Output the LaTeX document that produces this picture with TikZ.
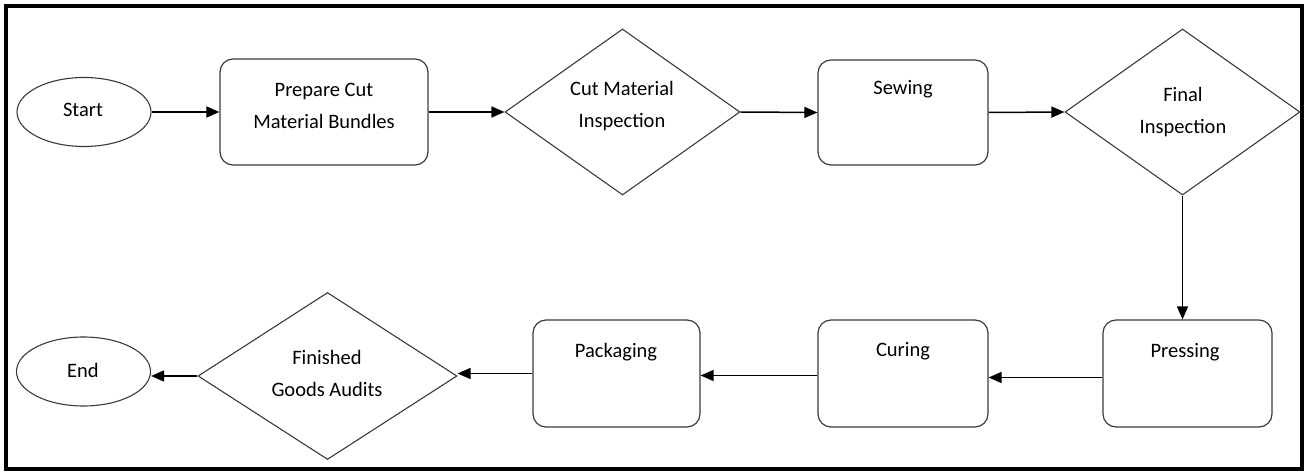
\documentclass[tikz,border=0pt]{standalone}
\usepackage{fontspec}
\setmainfont{Carlito}
\usetikzlibrary{shapes.geometric,arrows.meta}
\definecolor{linegray}{HTML}{3A3A3A}
\begin{document}
\begin{tikzpicture}[x=1pt,y=-1pt,
  every node/.style={font=\fontsize{20.5}{32}\selectfont},
  procbox/.style={draw=linegray, line width=1.2pt, rounded corners=13pt, inner sep=0pt},
  decbox/.style={draw=linegray, line width=1.1pt, diamond, inner sep=0pt},
  termbox/.style={draw=linegray, line width=1.1pt, ellipse, inner sep=0pt, minimum width=134pt, minimum height=69pt},
  lbl/.style={align=center, inner sep=0pt},
  flow/.style={draw=black, line width=1.5pt, -{Triangle[length=13pt,width=11pt]}}
]
\useasboundingbox (0,0) rectangle (1310,473);
\node[draw=black, line width=3.5pt, minimum width=1296pt, minimum height=463pt, inner sep=0pt] (frame) at (654,237.5) {};

% shapes
\node[termbox] (start) at (84,112) {};
\node[procbox, minimum width=208pt, minimum height=106pt] (prep) at (324,112) {};
\node[decbox, minimum width=235pt, minimum height=166pt] (cmi) at (622.5,112) {};
\node[procbox, minimum width=170pt, minimum height=105pt] (sew) at (903,112.5) {};
\node[decbox, minimum width=235pt, minimum height=166pt] (fin) at (1182.5,112) {};
\node[procbox, minimum width=169pt, minimum height=107pt] (press) at (1187.5,373.5) {};
\node[procbox, minimum width=170pt, minimum height=107pt] (cur) at (903,373.5) {};
\node[procbox, minimum width=167pt, minimum height=107pt] (pack) at (616.5,373.5) {};
\node[decbox, minimum width=259pt, minimum height=167pt] (fga) at (327.5,376) {};
\node[termbox] (endn) at (83.5,371.5) {};

% labels
\node[lbl] (tstart) at (83,110) {Start};
\node[lbl] (tprep) at (324,106) {Prepare Cut\\Material Bundles};
\node[lbl] (tcmi) at (622,106) {Cut Material\\Inspection};
\node[lbl] (tsew) at (903,89) {Sewing};
\node[lbl] (tfin) at (1183,112) {Final\\Inspection};
\node[lbl] (tpress) at (1185,352) {Pressing};
\node[lbl] (tcur) at (903,351) {Curing};
\node[lbl] (tpack) at (616,352) {Packaging};
\node[lbl] (tfga) at (327,373.5) {Finished\\Goods Audits};
\node[lbl] (tend) at (83,370) {End};

% connectors
\draw[flow] (start.east) -- (prep.west);
\draw[flow] (prep.east) -- (cmi.west);
\draw[flow] (cmi.east) -- (sew.west);
\draw[flow] (sew.east) -- (fin.west);
\draw[flow] (fin.south) -- (press.north -| fin.south);
\draw[flow] ([yshift=-4pt]press.west) -- ([yshift=-4pt]cur.east);
\draw[flow] ([yshift=-2pt]cur.west) -- ([yshift=-2pt]pack.east);
\draw[flow] (pack.west) -- (fga.east |- pack.west);
\draw[flow] (fga.west) -- (endn.east |- fga.west);
\end{tikzpicture}
\end{document}
